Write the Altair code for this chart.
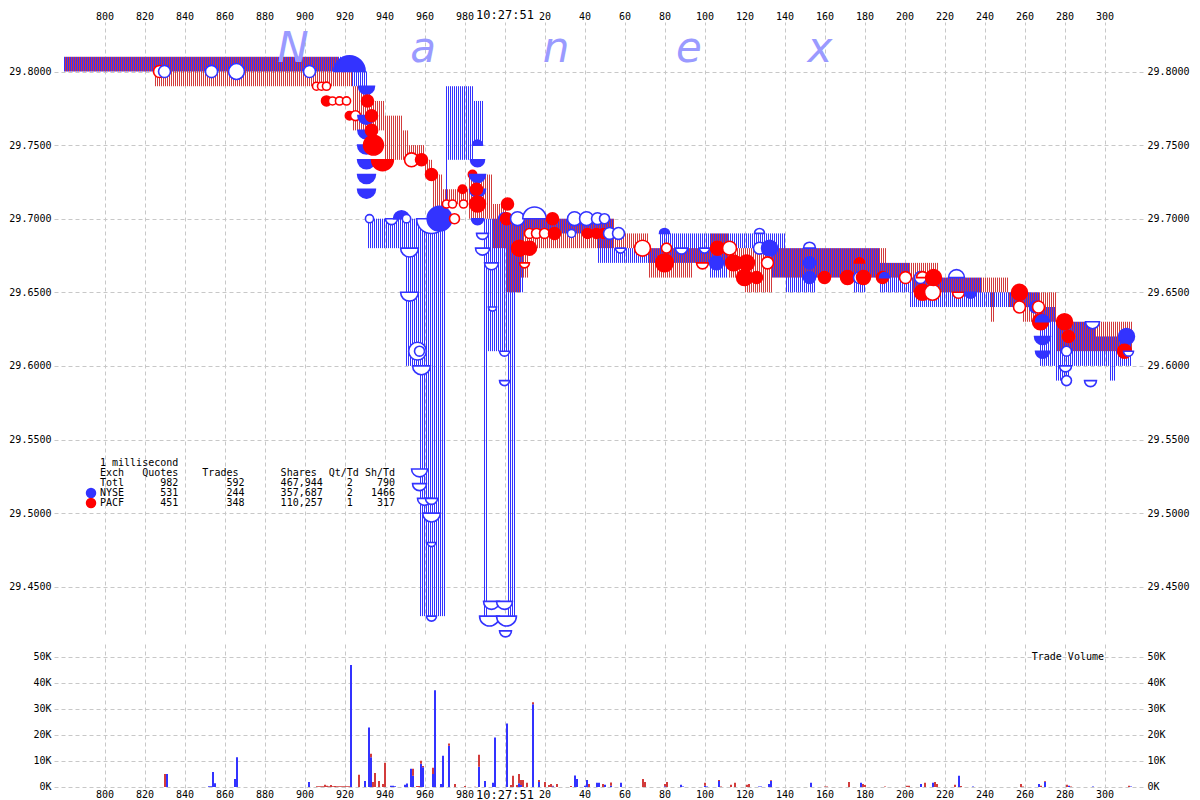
import altair as alt
import pandas as pd

# ---------------- data ----------------
# quote intervals per exchange: (start ms, end ms, bid, ask)   time axis: ms after 10:27:50
nyse_quotes = [
    (780, 924, 29.80, 29.81), (924, 932, 29.79, 29.80), (932, 951, 29.68, 29.70),
    (951, 958, 29.60, 29.70), (958, 971, 29.43, 29.70), (971, 972, 29.70, 29.79),
    (972, 985, 29.74, 29.79), (985, 990, 29.75, 29.78), (990, 992, 29.43, 29.70),
    (992, 1002, 29.61, 29.70), (1002, 1006, 29.43, 29.70), (1006, 1010, 29.65, 29.70),
    (1010, 1047, 29.69, 29.70), (1047, 1055, 29.67, 29.70), (1055, 1078, 29.67, 29.68),
    (1078, 1103, 29.67, 29.69), (1103, 1112, 29.66, 29.69), (1112, 1134, 29.68, 29.69),
    (1134, 1141, 29.66, 29.69), (1141, 1156, 29.65, 29.68), (1156, 1175, 29.66, 29.68),
    (1175, 1181, 29.65, 29.68), (1181, 1188, 29.66, 29.68), (1188, 1203, 29.65, 29.67),
    (1203, 1239, 29.64, 29.66), (1239, 1268, 29.64, 29.65), (1268, 1276, 29.60, 29.64),
    (1276, 1283, 29.59, 29.63), (1283, 1296, 29.60, 29.63), (1296, 1303, 29.60, 29.62),
    (1303, 1306, 29.59, 29.62), (1306, 1314, 29.60, 29.62),
]
pacf_quotes = [
    (780, 825, 29.80, 29.81), (825, 917, 29.79, 29.81), (917, 924, 29.79, 29.80),
    (924, 933, 29.76, 29.79), (933, 940, 29.76, 29.78), (940, 949, 29.74, 29.77),
    (949, 952, 29.74, 29.76), (952, 960, 29.74, 29.75), (960, 964, 29.73, 29.74),
    (964, 969, 29.70, 29.73), (969, 982, 29.71, 29.72), (982, 994, 29.70, 29.73),
    (994, 1001, 29.68, 29.71), (1001, 1008, 29.65, 29.70), (1008, 1012, 29.66, 29.70),
    (1012, 1055, 29.68, 29.70), (1055, 1072, 29.68, 29.69), (1072, 1094, 29.66, 29.68),
    (1094, 1103, 29.67, 29.68), (1103, 1112, 29.67, 29.69), (1112, 1120, 29.66, 29.68),
    (1120, 1134, 29.65, 29.68), (1134, 1191, 29.66, 29.68), (1191, 1204, 29.66, 29.67),
    (1204, 1217, 29.65, 29.67), (1217, 1243, 29.65, 29.66), (1243, 1245, 29.63, 29.66),
    (1245, 1252, 29.65, 29.66), (1252, 1259, 29.64, 29.65), (1259, 1276, 29.63, 29.65),
    (1276, 1314, 29.61, 29.63),
]

# trade / quote markers: (ms, price, exchange, kind, shares)
# kind: T trade, O trade (open), B bid quote, b bid quote (open), D ask quote, d ask quote (open)
trade_marks = [
    (827.5, 29.80, "P", "O", 4200), (830.0, 29.80, "N", "O", 4200), (853.5, 29.80, "N", "O", 4500),
    (866.0, 29.80, "N", "O", 9800), (902.5, 29.80, "N", "O", 4200), (906.0, 29.79, "P", "O", 200),
    (908.5, 29.79, "P", "O", 200), (911.0, 29.79, "P", "O", 300), (911.0, 29.78, "P", "T", 2000),
    (914.0, 29.78, "P", "O", 200), (917.5, 29.78, "P", "O", 300), (921.0, 29.78, "P", "O", 300),
    (922.5, 29.80, "N", "D", 47000), (922.5, 29.77, "P", "T", 500), (925.5, 29.77, "P", "O", 2000),
    (931.0, 29.79, "N", "B", 9800), (931.0, 29.77, "N", "B", 12000), (931.0, 29.76, "N", "B", 12000),
    (931.0, 29.75, "N", "B", 13000), (931.0, 29.74, "N", "B", 13000), (931.0, 29.73, "N", "B", 13000),
    (931.0, 29.72, "N", "B", 13000), (931.5, 29.78, "P", "T", 4200), (933.5, 29.77, "P", "T", 4200),
    (933.5, 29.76, "P", "T", 4500), (934.5, 29.75, "P", "T", 17000), (939.0, 29.74, "P", "B", 21000),
    (932.5, 29.70, "N", "O", 300), (943.5, 29.70, "N", "b", 4200), (948.5, 29.70, "N", "D", 9800),
    (951.0, 29.70, "N", "O", 500), (953.5, 29.74, "P", "O", 6800), (958.5, 29.74, "P", "T", 4200),
    (963.5, 29.73, "P", "T", 4200), (952.5, 29.68, "N", "b", 13000), (952.5, 29.65, "N", "b", 13000),
    (958.5, 29.60, "N", "b", 13000), (956.5, 29.61, "N", "O", 13000), (957.5, 29.61, "N", "O", 2000),
    (957.5, 29.53, "N", "b", 9800), (957.5, 29.52, "N", "b", 6800), (960.0, 29.51, "N", "b", 6800),
    (963.5, 29.51, "N", "b", 4200), (963.5, 29.50, "N", "b", 13000), (963.5, 29.48, "N", "b", 300),
    (963.5, 29.43, "N", "b", 2000), (963.5, 29.70, "N", "b", 42000), (967.5, 29.70, "N", "T", 28000),
    (971.0, 29.71, "P", "O", 300), (974.0, 29.71, "P", "O", 300), (975.0, 29.70, "P", "O", 2000),
    (979.0, 29.72, "P", "T", 500), (979.5, 29.71, "P", "O", 300), (984.0, 29.73, "P", "T", 500),
    (986.5, 29.75, "N", "D", 2000), (986.5, 29.74, "N", "B", 6800), (986.5, 29.73, "N", "B", 9800),
    (986.5, 29.72, "N", "B", 9800), (986.0, 29.72, "P", "T", 4200), (986.5, 29.71, "P", "T", 9800),
    (986.5, 29.70, "N", "B", 4200), (989.0, 29.69, "N", "b", 4200), (989.0, 29.68, "N", "b", 6800),
    (993.5, 29.67, "N", "b", 6800), (994.0, 29.64, "N", "b", 300), (1000.0, 29.61, "N", "b", 2000),
    (1000.0, 29.59, "N", "b", 2000), (993.5, 29.44, "N", "b", 9800), (1000.0, 29.44, "N", "b", 9800),
    (992.5, 29.43, "N", "b", 17000), (1001.0, 29.43, "N", "b", 17000), (1000.5, 29.42, "N", "b", 4200),
    (1000.0, 29.70, "N", "D", 4200), (1001.0, 29.70, "P", "T", 4200), (1001.5, 29.71, "P", "T", 4200),
    (1006.5, 29.70, "N", "O", 6800), (1007.5, 29.68, "P", "T", 9800), (1012.5, 29.68, "P", "T", 6800),
    (1010.0, 29.67, "P", "b", 2000), (1012.5, 29.69, "P", "O", 2000), (1016.0, 29.69, "P", "O", 2000),
    (1015.0, 29.70, "N", "d", 25000), (1020.0, 29.69, "P", "O", 2000), (1024.0, 29.70, "P", "T", 4200),
    (1025.0, 29.69, "P", "T", 4200), (1033.5, 29.69, "N", "O", 300), (1035.0, 29.70, "N", "O", 6800),
    (1041.0, 29.70, "N", "O", 6800), (1041.5, 29.69, "P", "T", 2000), (1046.0, 29.69, "P", "T", 2000),
    (1046.5, 29.70, "N", "O", 4200), (1049.5, 29.69, "P", "T", 2000), (1050.0, 29.70, "N", "O", 2000),
    (1052.5, 29.69, "N", "O", 4200), (1057.0, 29.69, "N", "O", 4200), (1058.0, 29.68, "N", "b", 2000),
    (1069.0, 29.68, "P", "O", 9800), (1080.0, 29.69, "N", "D", 2000), (1081.0, 29.68, "P", "O", 2000),
    (1080.0, 29.67, "P", "T", 13000), (1088.5, 29.68, "N", "b", 4200), (1099.0, 29.67, "P", "b", 4200),
    (1100.0, 29.68, "N", "b", 2000), (1106.0, 29.67, "N", "T", 6800), (1106.5, 29.68, "P", "T", 6800),
    (1112.5, 29.68, "P", "O", 6800), (1114.5, 29.67, "P", "T", 9800), (1120.0, 29.66, "P", "T", 9800),
    (1121.0, 29.67, "P", "T", 9800), (1126.0, 29.66, "P", "T", 4200), (1127.5, 29.69, "N", "d", 2000),
    (1127.5, 29.68, "N", "O", 4200), (1132.5, 29.68, "N", "T", 9800), (1131.5, 29.67, "P", "O", 4200),
    (1152.5, 29.68, "N", "d", 4200), (1152.5, 29.67, "N", "T", 4200), (1152.5, 29.66, "N", "T", 4200),
    (1160.0, 29.66, "P", "T", 4200), (1171.5, 29.66, "P", "T", 6800), (1177.5, 29.67, "P", "D", 2000),
    (1177.5, 29.66, "N", "O", 4200), (1179.5, 29.66, "P", "T", 6800), (1189.0, 29.66, "P", "T", 4200),
    (1190.0, 29.66, "N", "D", 2000), (1200.5, 29.66, "P", "O", 4200), (1208.0, 29.66, "N", "O", 4200),
    (1209.0, 29.65, "P", "T", 9800), (1209.0, 29.66, "P", "d", 4200), (1214.0, 29.65, "P", "O", 9800),
    (1214.5, 29.66, "P", "T", 9800), (1226.0, 29.66, "N", "d", 9800), (1227.0, 29.65, "P", "b", 4200),
    (1233.0, 29.65, "N", "B", 4200), (1257.5, 29.65, "P", "T", 9800), (1257.5, 29.64, "P", "O", 4200),
    (1265.5, 29.64, "N", "T", 4200), (1267.0, 29.64, "P", "O", 4200), (1268.0, 29.63, "P", "T", 9800),
    (1269.0, 29.63, "N", "D", 6800), (1269.0, 29.62, "N", "B", 9800), (1269.0, 29.61, "N", "B", 6800),
    (1280.0, 29.63, "P", "T", 9800), (1282.0, 29.62, "P", "T", 4200), (1281.0, 29.61, "N", "O", 2000),
    (1280.5, 29.60, "N", "b", 4200), (1281.0, 29.59, "N", "O", 2000), (1294.0, 29.63, "N", "b", 6800),
    (1293.0, 29.59, "N", "b", 4200), (1311.0, 29.62, "N", "T", 9800), (1310.0, 29.61, "P", "T", 6800),
    (1312.0, 29.61, "N", "b", 2000),
]

# trade volume per millisecond: (ms, NYSE shares, PACF shares)
volume_ms = [
    (830, 0, 5000), (831, 5000, 0), (852, 300, 0), (853, 300, 0), (854, 5800, 0), (855, 1400, 0),
    (865, 3100, 0), (866, 11400, 0), (902, 1900, 0),
    (906, 0, 300), (907, 0, 300), (908, 0, 300), (909, 0, 300), (910, 0, 900), (911, 0, 500),
    (912, 0, 300), (913, 0, 800), (914, 0, 300), (915, 0, 400), (916, 0, 300), (917, 0, 300),
    (918, 0, 300), (919, 0, 300), (920, 0, 300), (921, 0, 300), (922, 0, 300),
    (923, 46900, 0), (927, 0, 4700), (930, 2300, 0), (932, 22900, 0), (933, 11400, 1400),
    (934, 0, 1900), (935, 0, 5400), (937, 0, 2300), (939, 0, 1200), (940, 0, 9300),
    (943, 500, 0), (944, 500, 0), (945, 300, 0), (950, 900, 0), (951, 1300, 0),
    (953, 7000, 0), (954, 4300, 2700), (956, 0, 400), (957, 0, 400), (958, 8900, 1200),
    (959, 7600, 500), (964, 5000, 2400), (965, 37200, 0), (968, 1200, 0), (969, 12000, 0),
    (972, 15900, 800), (975, 0, 1200), (980, 0, 400), (985, 0, 100), (987, 7800, 4600),
    (990, 2300, 0), (994, 1600, 0), (995, 19000, 0), (1001, 24400, 0), (1003, 0, 800),
    (1004, 0, 4300), (1006, 0, 800), (1007, 1400, 3600), (1008, 800, 1900), (1009, 0, 2700),
    (1011, 0, 1600), (1014, 31800, 800), (1017, 1900, 800), (1020, 0, 1900), (1022, 0, 800),
    (1023, 0, 1200), (1024, 300, 200), (1026, 0, 1200), (1033, 0, 400), (1035, 4400, 0),
    (1036, 3100, 0), (1040, 500, 0), (1041, 2700, 0), (1042, 0, 1200), (1046, 1600, 0),
    (1047, 1600, 0), (1049, 0, 1200), (1050, 900, 0), (1053, 500, 1200), (1058, 1600, 0),
    (1069, 0, 3100), (1070, 0, 1900), (1080, 300, 900), (1081, 0, 1900), (1088, 900, 0),
    (1089, 200, 0), (1100, 500, 1100), (1101, 200, 0), (1107, 2300, 400), (1108, 0, 200),
    (1113, 0, 900), (1115, 0, 1600), (1121, 0, 900), (1122, 0, 1200), (1127, 200, 0),
    (1128, 200, 0), (1132, 1200, 0), (1133, 2300, 300), (1153, 1600, 0), (1160, 0, 200),
    (1161, 0, 200), (1172, 0, 1900), (1178, 1600, 0), (1179, 0, 1200), (1180, 0, 800),
    (1190, 0, 200), (1201, 0, 500), (1202, 0, 500), (1208, 1200, 0), (1210, 0, 1600),
    (1214, 1600, 0), (1215, 0, 1900), (1216, 0, 1200), (1225, 0, 900), (1227, 4300, 0),
    (1228, 0, 400), (1234, 200, 0), (1258, 0, 1200), (1259, 0, 200), (1267, 1200, 0),
    (1268, 0, 500), (1270, 2000, 300), (1281, 0, 900), (1282, 500, 0), (1283, 0, 200),
    (1294, 200, 0), (1312, 0, 500), (1313, 200, 0),
]

legend_exch = ["Totl", "NYSE", "PACF"]
legend_quotes = [982, 531, 451]
legend_trades = [592, 244, 348]
legend_shares = [467944, 357687, 110257]
legend_qt_td = [2, 2, 1]
legend_sh_td = [790, 1466, 317]
watermark_letters = ["N", "a", "n", "e", "x"]

x_ticks = list(range(800, 1301, 20))
price_ticks = [29.45, 29.50, 29.55, 29.60, 29.65, 29.70, 29.75, 29.80]
volume_ticks = [0, 10000, 20000, 30000, 40000, 50000]

# ---------------- styling ----------------
BLUE = "#3333ff"
RED = "#ff0000"
STRIPE_RED = "#d23c3c"
GRID = "#c8c8c8"
WATER = "#9a9aff"
MONO = "DejaVu Sans Mono"
W = 1090
H_PRICE = 612
H_VOL = 144
T_DOMAIN = [774.75, 1319.75]
P_DOMAIN = [29.41787, 29.83363]
V_DOMAIN = [-385, 55000]

# ---------------- tables ----------------
band_rows = []
for ex, quotes, off in (("N", nyse_quotes, 0.0), ("P", pacf_quotes, 0.5)):
    for t0, t1, bid, ask in quotes:
        for t in range(t0, t1):
            band_rows.append({"t": t + off, "bid": bid, "ask": ask, "exch": ex})
bands = pd.DataFrame(band_rows)

marks = pd.DataFrame(trade_marks, columns=["t", "price", "exch", "kind", "shares"])
marks["style"] = marks["exch"] + marks["kind"].map(lambda k: "f" if k in "TBD" else "o")

vol_rows = []
for t, n, p in volume_ms:
    if n > 0:
        vol_rows.append({"t": t, "exch": "N", "lo": 0, "hi": n})
    if p > 0:
        vol_rows.append({"t": t, "exch": "P", "lo": n, "hi": n + p})
vol = pd.DataFrame(vol_rows)

# ---------------- axes / scales ----------------
xs = alt.Scale(domain=T_DOMAIN, nice=False, zero=False)
ys = alt.Scale(domain=P_DOMAIN, nice=False, zero=False)
vs = alt.Scale(domain=V_DOMAIN, nice=False, zero=False)

X_LABEL = ("datum.value == 1000 ? '10:27:51' : "
           "format(datum.value > 1000 ? datum.value - 1000 : datum.value, 'd')")


def x_axis(orient):
    return alt.Axis(orient=orient, values=x_ticks, labelExpr=X_LABEL, grid=True,
                    gridColor=GRID, gridDash=[4, 3], gridWidth=1, domain=False,
                    ticks=False, labelFont=MONO,
                    labelFontSize={"condition": {"test": "datum.value == 1000", "value": 12},
                                   "value": 10},
                    labelColor="#000000", labelPadding=1, labelFlush=False,
                    labelOverlap=False, title=None, minExtent=11, maxExtent=11)


def y_axis(orient, values, grid, fmt=None, expr=None):
    kw = dict(orient=orient, values=values, grid=grid, gridColor=GRID, gridDash=[4, 3],
              gridWidth=1, domain=False, ticks=False, labelFont=MONO, labelFontSize=10,
              labelColor="#000000", labelPadding=3, labelFlush=False, labelOverlap=False,
              title=None, minExtent=45, maxExtent=45)
    if fmt:
        kw["format"] = fmt
    if expr:
        kw["labelExpr"] = expr
    return alt.Axis(**kw)


X_TOP = alt.X("t:Q", scale=xs, axis=x_axis("top"))

# ---------------- price panel ----------------
band_layer = alt.Chart(bands).mark_rule(strokeWidth=1).encode(
    x=X_TOP,
    y=alt.Y("bid:Q", scale=ys, axis=y_axis("left", price_ticks, True, fmt=".4f")),
    y2="ask:Q",
    color=alt.Color("exch:N", scale=alt.Scale(domain=["N", "P"], range=[BLUE, STRIPE_RED]),
                    legend=None),
)

BOWL = "M-1,0A1,1,0,0,0,1,0Z"
DOME = "M-1,0A1,1,0,0,1,1,0Z"
marker_layer = alt.Chart(marks).mark_point(filled=True, opacity=1, strokeWidth=1.6).encode(
    x=X_TOP,
    y=alt.Y("price:Q", scale=ys, axis=None),
    shape=alt.Shape("kind:N", scale=alt.Scale(domain=["T", "O", "B", "b", "D", "d"],
                                              range=["circle", "circle", BOWL, BOWL, DOME, DOME]),
                    legend=None),
    size=alt.Size("shares:Q", scale=alt.Scale(domain=[0, 48000], range=[60, 1000]), legend=None),
    fill=alt.Fill("style:N", scale=alt.Scale(domain=["Nf", "No", "Pf", "Po"],
                                             range=[BLUE, "#ffffff", RED, "#ffffff"]),
                  legend=None),
    stroke=alt.Stroke("exch:N", scale=alt.Scale(domain=["N", "P"], range=[BLUE, RED]),
                      legend=None),
)

price_right = alt.Chart(pd.DataFrame({"p": P_DOMAIN})).mark_rule(opacity=0).encode(
    y=alt.Y("p:Q", scale=ys, axis=y_axis("right", price_ticks, False, fmt=".4f"))
)

one = pd.DataFrame({"k": [0]})
water_x = [239, 369, 502, 635, 766]
water_layers = [
    alt.Chart(one).mark_text(text=ch, font="DejaVu Sans", fontStyle="italic", fontSize=42,
                             color=WATER, align="center", baseline="alphabetic").encode(
        x=alt.value(px), y=alt.value(40))
    for ch, px in zip(watermark_letters, water_x)
]


def nb(s):
    return s.replace(" ", "\u00a0")


legend_lines = ["1 millisecond",
                "Exch   Quotes    Trades       Shares  Qt/Td Sh/Td"]
for i in range(3):
    legend_lines.append(f"{legend_exch[i]:<4}{legend_quotes[i]:>9}{legend_trades[i]:>11}"
                        f"{legend_shares[i]:>13,}{legend_qt_td[i]:>5}{legend_sh_td[i]:>7}")
legend_layers = [
    alt.Chart(one).mark_text(text=nb(line), font=MONO, fontSize=10, color="#000000",
                             align="left", baseline="middle").encode(
        x=alt.value(46), y=alt.value(441 + 10 * i))
    for i, line in enumerate(legend_lines)
]
dot_layers = [
    alt.Chart(one).mark_point(filled=True, opacity=1, size=110, color=c, shape="circle").encode(
        x=alt.value(37), y=alt.value(yy))
    for c, yy in ((BLUE, 471), (RED, 481))
]

price = alt.layer(band_layer, marker_layer, price_right, *water_layers, *legend_layers,
                  *dot_layers).resolve_axis(y="independent").properties(width=W, height=H_PRICE)

# ---------------- volume panel ----------------
vol_layer = alt.Chart(vol).mark_rect().transform_calculate(
    t_start="datum.t - 0.25", t_end="datum.t + 0.75"
).encode(
    x=alt.X("t_start:Q", scale=xs, axis=x_axis("bottom")),
    x2="t_end:Q",
    y=alt.Y("lo:Q", scale=vs,
            axis=y_axis("left", volume_ticks, True,
                        expr="format(datum.value / 1000, 'd') + 'K'")),
    y2="hi:Q",
    color=alt.Color("exch:N", scale=alt.Scale(domain=["N", "P"], range=[BLUE, RED]), legend=None),
)
vol_right = alt.Chart(pd.DataFrame({"v": V_DOMAIN})).mark_rule(opacity=0).encode(
    y=alt.Y("v:Q", scale=vs,
            axis=y_axis("right", volume_ticks, False,
                        expr="format(datum.value / 1000, 'd') + 'K'"))
)
vol_title = alt.Chart(one).mark_text(text=nb("Trade Volume"), font=MONO, fontSize=10,
                                     color="#000000", align="right", baseline="middle").encode(
    x=alt.value(1050), y=alt.value(13))

volume = alt.layer(vol_layer, vol_right, vol_title).resolve_axis(y="independent").properties(
    width=W, height=H_VOL)

chart = alt.vconcat(price, volume, spacing=3).properties(
    padding={"left": 0, "right": 0, "top": 0, "bottom": 0}, background="#ffffff"
).configure_view(strokeWidth=0)

chart.save("out.html", embed_options={"renderer": "svg", "actions": False})
